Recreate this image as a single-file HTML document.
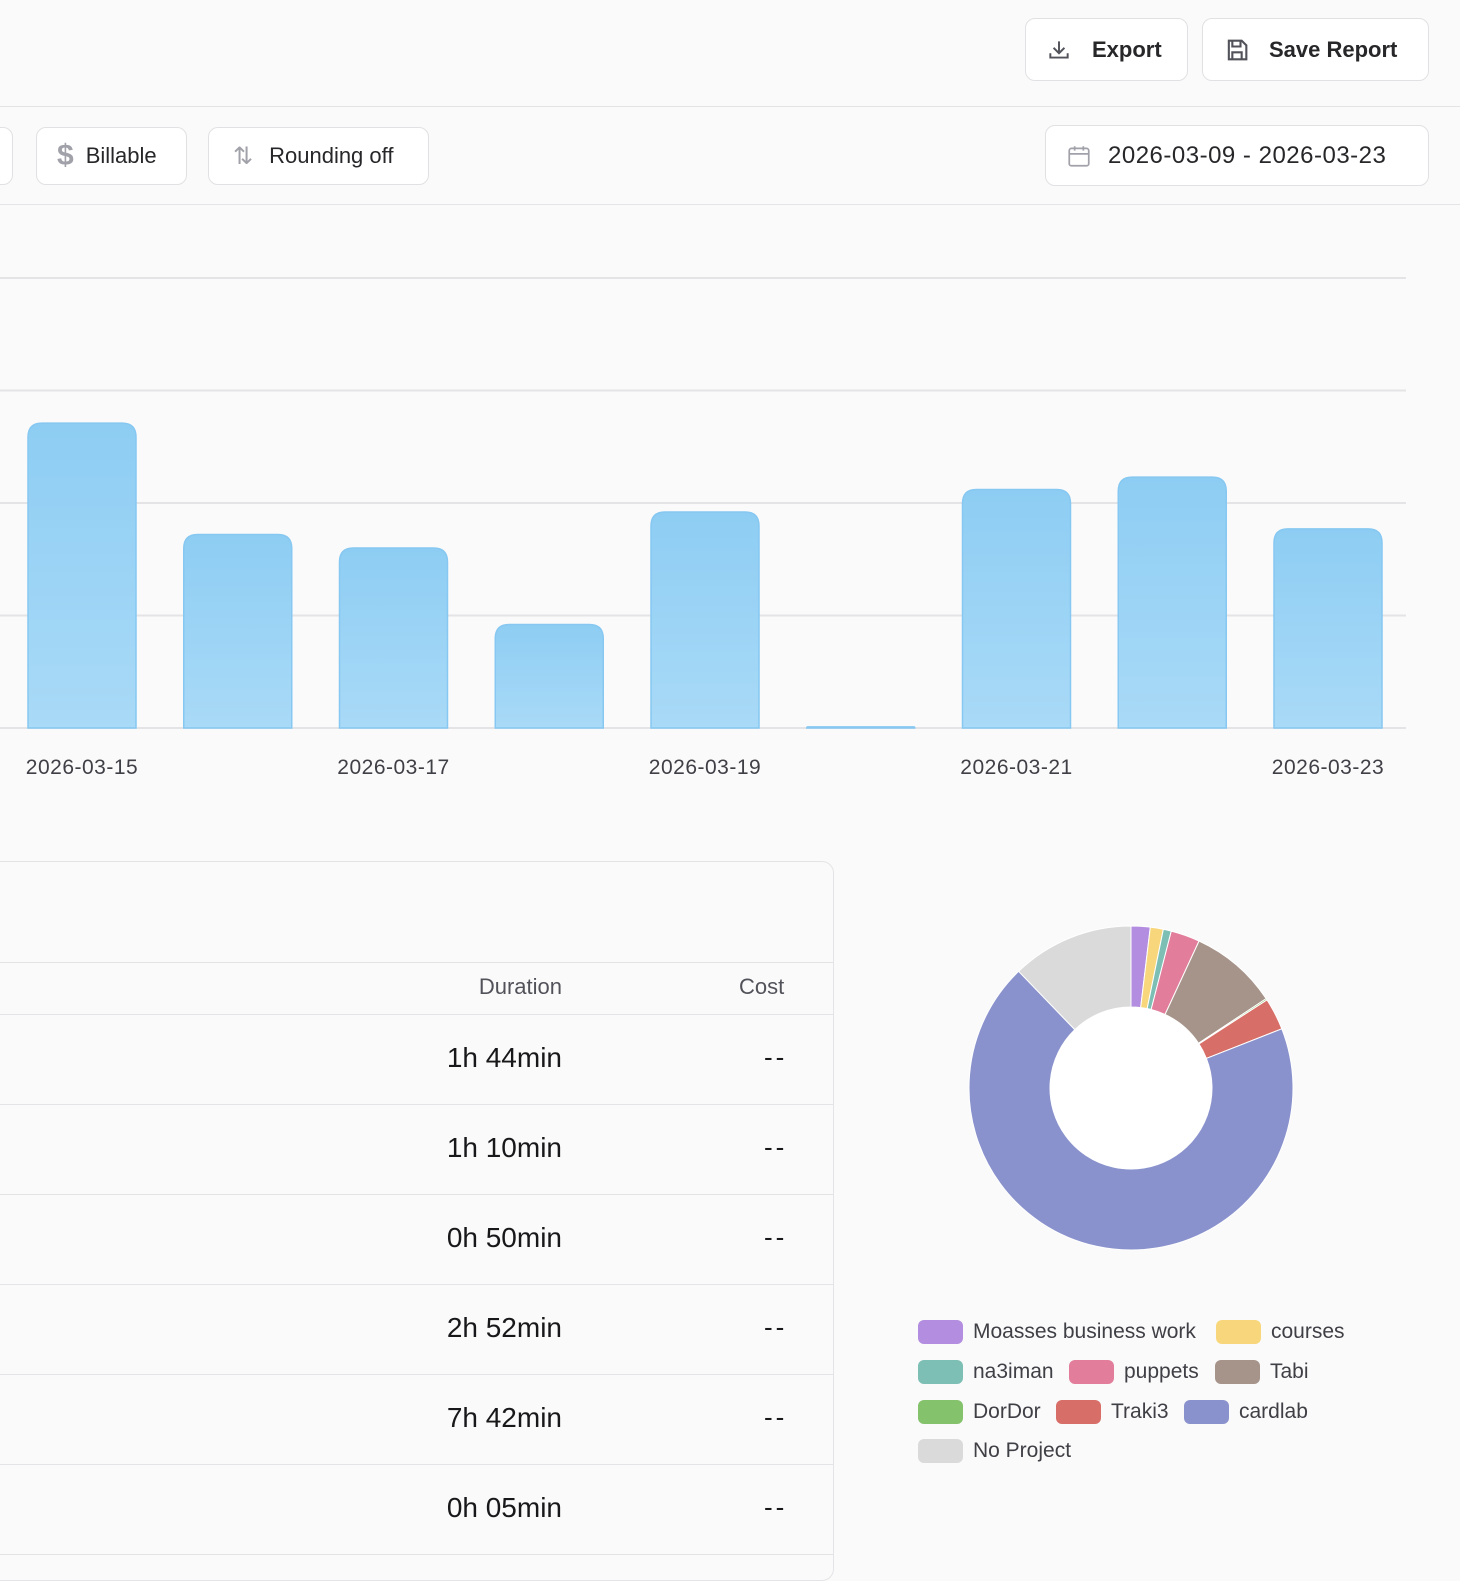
<!DOCTYPE html>
<html><head><meta charset="utf-8"><style>
*{box-sizing:border-box;margin:0;padding:0}
body{width:1460px;height:1558px;background:#fafafa;font-family:"Liberation Sans",sans-serif;color:#27272a;position:relative;overflow:hidden}
.btn{position:absolute;background:#fff;border:1px solid #e1e1e4;border-radius:10px;display:flex;align-items:center;font-size:22px;color:#27272a}
.hl{position:absolute;left:0;width:1460px;height:1px;background:#e4e4e7}
.row{position:absolute;left:0;width:833px;height:1px;background:#e4e4e7}
.dur{position:absolute;right:898px;font-size:28px;color:#18181b;text-align:right}
.cost{position:absolute;left:764px;font-size:26px;color:#18181b;letter-spacing:3px}
.lg{position:absolute;display:flex;align-items:center;font-size:21px;color:#3f3f46}
.sw{width:45px;height:24px;border-radius:6px;margin-right:10px}
</style></head><body>
<div class="btn" style="left:1025px;top:18px;width:163px;height:63px;padding-left:20px;font-weight:bold">
<svg width="26" height="26" viewBox="0 0 24 24" fill="none" stroke="#52525b" stroke-width="1.8" style="margin-right:20px"><path d="M4 15v4h16v-4M12 4v11M7 10l5 5 5-5"/></svg>Export</div>
<div class="btn" style="left:1202px;top:18px;width:227px;height:63px;padding-left:20px;font-weight:bold">
<svg width="28" height="28" viewBox="0 0 24 24" fill="none" stroke="#52525b" stroke-width="1.8" style="margin-right:18px"><path d="M5 4h11l4 4v12H5z M8 4v5h7V4 M8 20v-6h8v6"/></svg>Save Report</div>
<div class="hl" style="top:106px"></div>
<div class="btn" style="left:-20px;top:127px;width:33px;height:58px"></div>
<div class="btn" style="left:36px;top:127px;width:151px;height:58px;padding-left:20px">
<span style="color:#a1a1aa;font-size:30px;font-weight:bold;margin-right:12px">$</span>Billable</div>
<div class="btn" style="left:208px;top:127px;width:221px;height:58px;padding-left:24px">
<span style="color:#a1a1aa;font-size:24px;margin-right:16px">⇅</span>Rounding off</div>
<div class="btn" style="left:1045px;top:125px;width:384px;height:61px;padding-left:20px;font-size:24px;letter-spacing:0.5px">
<svg width="26" height="26" viewBox="0 0 24 24" fill="none" stroke="#a1a1aa" stroke-width="1.6" style="margin-right:16px"><rect x="3" y="5" width="18" height="16" rx="2"/><path d="M3 10h18M8 3v4M16 3v4"/></svg>2026-03-09 - 2026-03-23</div>
<div class="hl" style="top:204px"></div>

<svg id="bar" width="1460" height="800" style="position:absolute;left:0;top:0">
<defs><linearGradient id="bg" x1="0" y1="0" x2="0" y2="1"><stop offset="0" stop-color="#8ecdf3"/><stop offset="1" stop-color="#a9daf7"/></linearGradient></defs>
<g id="grid"></g><g id="bars"></g><g id="xl"></g></svg>

<div style="position:absolute;left:-20px;top:861px;width:854px;height:720px;border:1px solid #e4e4e7;border-radius:12px;background:#fafafa"></div>
<div class="row" style="top:962px"></div>
<div style="position:absolute;right:898px;top:974px;font-size:22px;color:#52525b">Duration</div>
<div style="position:absolute;left:739px;top:974px;font-size:22px;color:#52525b">Cost</div>
<div id="rows"></div>

<svg id="donut" width="1460" height="1558" style="position:absolute;left:0;top:0;pointer-events:none"></svg>
<div id="legend"></div>

<script>
const categories=["2026-03-09","2026-03-10","2026-03-11","2026-03-12","2026-03-13","2026-03-14","2026-03-15","2026-03-16","2026-03-17","2026-03-18","2026-03-19","2026-03-20","2026-03-21","2026-03-22","2026-03-23"];
const hours=[3.5,4.2,2.8,3.0,1.5,0.5,5.42,3.44,3.2,1.84,3.84,0.02,4.24,4.46,3.54];
const yTicks=[0,2,4,6,8];
const xLabelIdx=[6,8,10,12,14];
const durations=["1h 44min","1h 10min","0h 50min","2h 52min","7h 42min","0h 05min"];
const costs=["--","--","--","--","--","--"];
const projects=["Moasses business work","courses","na3iman","puppets","Tabi","DorDor","Traki3","cardlab","No Project"];
const shares=[1.9,1.3,0.8,2.9,8.8,0.15,3.2,68.75,12.2];
const colors=["#b38ddf","#f8d77c","#7dbfb4","#e27d9b","#a6948a","#84c26b","#d76e68","#8992cc","#dadada"];
const NS="http://www.w3.org/2000/svg";
function mk(t,a,p){const e=document.createElementNS(NS,t);for(const k in a)e.setAttribute(k,a[k]);p.appendChild(e);return e;}
const x=i=>82+(i-6)*155.75, y=v=>728-v*56.25;
const grid=document.getElementById('grid');
yTicks.forEach(t=>{const l=mk('line',{x1:0,x2:1406,y1:y(t),y2:y(t),stroke:'#e4e4e7','stroke-width':2},grid);

});
const bars=document.getElementById('bars');
hours.forEach((v,i)=>{const w=108,x0=x(i)-w/2,yt=y(v),h=728-yt,r=Math.min(14,h);
const p=mk('path',{d:`M${x0},728V${yt+r}Q${x0},${yt} ${x0+r},${yt}H${x0+w-r}Q${x0+w},${yt} ${x0+w},${yt+r}V728Z`,fill:'url(#bg)',stroke:'#86c8f1','stroke-width':1.5},bars);

});
const xl=document.getElementById('xl');
xLabelIdx.forEach(i=>{const t=mk('text',{x:x(i),y:774,'text-anchor':'middle','font-size':21,fill:'#3f3f46','letter-spacing':'0.5'},xl);t.textContent=categories[i];

});
const rows=document.getElementById('rows');
durations.forEach((d,i)=>{const top=1014+i*90;
const ln=document.createElement('div');ln.className='row';ln.style.top=top+'px';rows.appendChild(ln);


const a=document.createElement('div');a.className='dur';a.style.top=(top+28)+'px';a.textContent=d;rows.appendChild(a);


const c=document.createElement('div');c.className='cost';c.style.top=(top+28)+'px';c.textContent=costs[i];rows.appendChild(c);

});
const last=document.createElement('div');last.className='row';last.style.top='1554px';rows.appendChild(last);


const dn=document.getElementById('donut');const cx=1131,cy=1088,R=162,r0=81;
const tot=shares.reduce((a,b)=>a+b,0);let a0=0;
const pt=(rad,a)=>[cx+rad*Math.sin(a),cy-rad*Math.cos(a)];
shares.forEach((s,i)=>{const a1=a0+s/tot*2*Math.PI,lg=(a1-a0)>Math.PI?1:0;
const [x1,y1]=pt(R,a0),[x2,y2]=pt(R,a1),[x3,y3]=pt(r0,a1),[x4,y4]=pt(r0,a0);
const p=mk('path',{d:`M${x1},${y1}A${R},${R} 0 ${lg} 1 ${x2},${y2}L${x3},${y3}A${r0},${r0} 0 ${lg} 0 ${x4},${y4}Z`,fill:colors[i],stroke:'#fff','stroke-width':1},dn);

a0=a1;});
mk('circle',{cx:cx,cy:cy,r:r0,fill:'#fff'},dn);
const pos=[[918,1320],[1216,1320],[918,1360],[1069,1360],[1215,1360],[918,1400],[1056,1400],[1184,1400],[918,1439]];
const lgd=document.getElementById('legend');
projects.forEach((p,i)=>{const d=document.createElement('div');d.className='lg';d.style.left=pos[i][0]+'px';d.style.top=pos[i][1]+'px';
d.innerHTML='<span class="sw" style="background:'+colors[i]+'"></span>'+p;lgd.appendChild(d);

});
</script>
</body></html>
